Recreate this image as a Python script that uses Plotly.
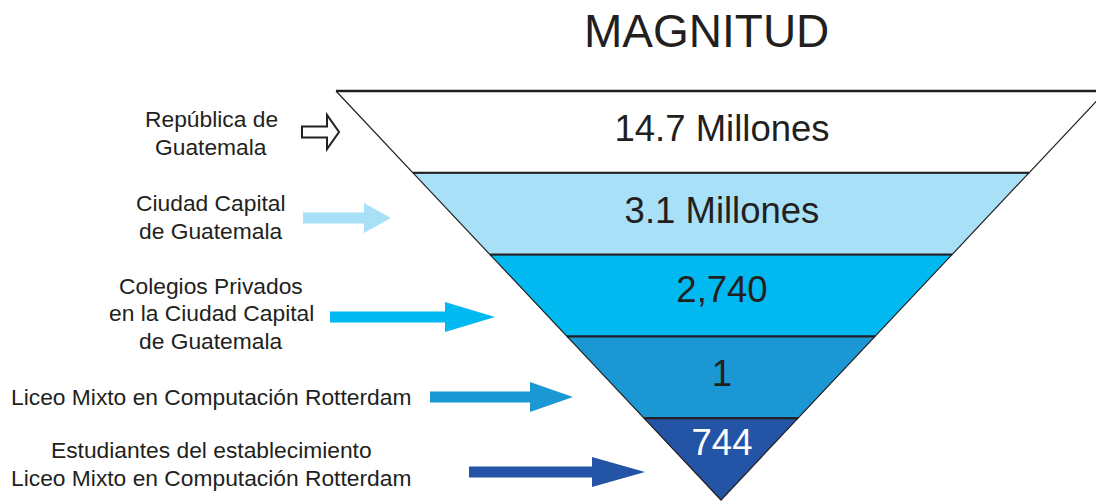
import plotly.graph_objects as go

# ---------------- data ----------------
title_text = "MAGNITUD"
categories = [
    "República de<br>Guatemala",
    "Ciudad Capital<br>de Guatemala",
    "Colegios Privados<br>en la Ciudad Capital<br>de Guatemala",
    "Liceo Mixto en Computación Rotterdam",
    "Estudiantes del establecimiento<br>Liceo Mixto en Computación Rotterdam",
]
magnitudes = ["14.7 Millones", "3.1 Millones", "2,740", "1", "744"]

# ---------------- styles ----------------
band_colors = ["#FFFFFF", "#A8E0F8", "#00B9F0", "#1B98D4", "#2354A5"]
text_colors = ["#231F20", "#231F20", "#231F20", "#231F20", "#FFFFFF"]
arrow_colors = ["#FFFFFF", "#A8E0F8", "#00B9F0", "#1B98D4", "#2354A5"]
FONT = "Liberation Sans, Arial, Helvetica, sans-serif"
INK = "#231F20"

# ---------------- layout (pixel space) ----------------
W, H = 1096, 501
TOP_Y, APEX_Y, APEX_X, TOP_HALF = 91, 500, 721, 385
n = len(categories)
band_h = (APEX_Y - TOP_Y) / n

# arrows: tail x, tip x, centre y, head length
arrow_tail = [302, 303, 330, 430, 469]
arrow_tip = [339, 391, 495, 573, 645]
arrow_y = [132, 218, 317, 397, 472]
arrow_head = [12, 27, 50, 43, 53]
SHAFT_H, HEAD_H = 11, 30
label_x = 211
label_y = [133, 217, 313, 397, 464]
LINE_GAP = 27.5


def half_width(y):
    return TOP_HALF * (APEX_Y - y) / (APEX_Y - TOP_Y)


fig = go.Figure()

# funnel bands
for i in range(n):
    y0 = TOP_Y + i * band_h
    y1 = y0 + band_h
    h0, h1 = half_width(y0), half_width(y1)
    fig.add_trace(go.Scatter(
        x=[APEX_X - h0, APEX_X + h0, APEX_X + h1, APEX_X - h1, APEX_X - h0],
        y=[y0, y0, y1, y1, y0],
        mode="lines", fill="toself", fillcolor=band_colors[i],
        line=dict(color=INK, width=1.2),
        hoverinfo="skip", showlegend=False,
    ))

# horizontal boundaries (thicker)
for i in range(n):
    y0 = TOP_Y + i * band_h
    h0 = half_width(y0)
    fig.add_trace(go.Scatter(
        x=[APEX_X - h0, APEX_X + h0], y=[y0, y0], mode="lines",
        line=dict(color=INK, width=2.4 if i == 0 else 2),
        hoverinfo="skip", showlegend=False,
    ))

# magnitude texts
text_y = []
for i in range(n):
    y0 = TOP_Y + i * band_h
    if i < n - 1:
        text_y.append(y0 + band_h / 2)
    else:
        text_y.append(y0 + band_h / 3)
for i in range(n):
    fig.add_trace(go.Scatter(
        x=[APEX_X + 1], y=[text_y[i] - (3 if i == 2 else 0)], mode="text",
        text=[magnitudes[i]], textposition="middle center",
        textfont=dict(family=FONT, size=36.5, color=text_colors[i]),
        hoverinfo="skip", showlegend=False,
    ))

# arrows
for i in range(n):
    xt, xp, yc, hl = arrow_tail[i], arrow_tip[i], arrow_y[i], arrow_head[i]
    hh = HEAD_H + (4 if i == 0 else 0)
    xb = xp - hl
    path = (f"M {xt},{yc - SHAFT_H/2} L {xb},{yc - SHAFT_H/2} L {xb},{yc - hh/2} "
            f"L {xp},{yc} L {xb},{yc + hh/2} L {xb},{yc + SHAFT_H/2} L {xt},{yc + SHAFT_H/2} Z")
    fig.add_shape(
        type="path", path=path, xref="x", yref="y",
        fillcolor=arrow_colors[i],
        line=dict(color=INK if i == 0 else arrow_colors[i], width=2 if i == 0 else 0),
        layer="above",
    )

# labels (one annotation per line for tighter leading)
for i in range(n):
    lines = categories[i].split("<br>")
    k = len(lines)
    for j, line in enumerate(lines):
        fig.add_annotation(
            x=label_x, y=label_y[i] + (j - (k - 1) / 2) * LINE_GAP,
            xref="x", yref="y", text=line,
            showarrow=False, xanchor="center", yanchor="middle", align="center",
            font=dict(family=FONT, size=22.8, color=INK),
        )

# title
fig.add_annotation(
    x=706, y=31, xref="x", yref="y", text=title_text, showarrow=False,
    xanchor="center", yanchor="middle",
    font=dict(family=FONT, size=46, color=INK),
)

fig.update_xaxes(range=[0, W], visible=False, fixedrange=True)
fig.update_yaxes(range=[H, 0], visible=False, fixedrange=True)
fig.update_layout(
    width=W, height=H, margin=dict(l=0, r=0, t=0, b=0, pad=0),
    plot_bgcolor="white", paper_bgcolor="white", showlegend=False,
)

fig.write_html(
    "out.html",
    config={"displayModeBar": False},
    post_script="document.body.style.margin='0px';document.body.style.overflow='hidden';",
)
